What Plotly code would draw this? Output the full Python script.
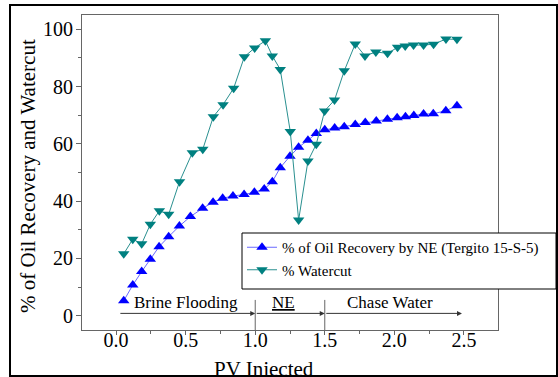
import plotly.graph_objects as go

# ---- data ----
oil_pv = [0.055, 0.12, 0.184, 0.246, 0.309, 0.378, 0.455, 0.534, 0.622, 0.697, 0.766, 0.84,
          0.92, 0.994, 1.065, 1.123, 1.18, 1.25, 1.312, 1.379, 1.439, 1.5, 1.571, 1.64, 1.719,
          1.791, 1.87, 1.95, 2.02, 2.08, 2.14, 2.21, 2.28, 2.37, 2.45]
oil_rec = [5.2, 10.7, 15.4, 19.7, 24.1, 27.6, 31.3, 34.6, 37.5, 39.6, 41.0, 41.8,
           42.3, 43.1, 44.2, 46.8, 51.7, 55.7, 58.8, 61.3, 63.6, 64.9, 65.5, 66.0, 66.8,
           67.5, 68.0, 68.6, 69.1, 69.5, 69.9, 70.4, 70.5, 71.6, 73.3]

wc_pv = [0.055, 0.12, 0.184, 0.246, 0.311, 0.378, 0.456, 0.548, 0.623, 0.699, 0.769, 0.845,
         0.922, 0.996, 1.073, 1.123, 1.18, 1.252, 1.312, 1.379, 1.439, 1.499, 1.57, 1.64,
         1.719, 1.789, 1.867, 1.951, 2.023, 2.078, 2.138, 2.21, 2.282, 2.371, 2.45]
wc_val = [21.6, 26.7, 25.1, 31.9, 36.6, 35.4, 46.8, 56.9, 58.1, 69.5, 73.7, 79.4,
          90.4, 93.5, 96.0, 90.7, 86.0, 64.3, 33.4, 54.0, 59.9, 71.5, 75.3, 85.5,
          94.9, 90.7, 92.1, 91.6, 93.7, 94.2, 94.5, 94.5, 94.8, 96.6, 96.5]

series_names = ["% of Oil Recovery by NE (Tergito 15-S-5)", "% Watercut"]
phase_labels = ["Brine Flooding", "<u>NE</u>", "Chase Water"]
phase_bounds = [0.02, 1.0, 1.5, 2.486]
phase_label_x = [0.50, 1.20, 1.97]
x_ticks = [0.0, 0.5, 1.0, 1.5, 2.0, 2.5]
y_ticks = [0, 20, 40, 60, 80, 100]

FONT = "Liberation Serif"

fig = go.Figure()
fig.add_trace(go.Scatter(
    x=oil_pv, y=oil_rec, mode="lines+markers", name=series_names[0],
    line=dict(color="#6a6aff", width=1),
    marker=dict(symbol="triangle-up", size=10, color="#0000ff"),
))
fig.add_trace(go.Scatter(
    x=wc_pv, y=wc_val, mode="lines+markers", name=series_names[1],
    line=dict(color="#2a9090", width=1),
    marker=dict(symbol="triangle-down", size=10, color="#008080"),
))

W, H = 558, 377
ML, MR, MT, MB = 82, 60, 15, 47
PW, PH = W - ML - MR, H - MT - MB


def px(xp):
    return (xp - ML) / PW


def py(yp):
    return (H - MB - yp) / PH


shapes = []
# outer frame
shapes.append(dict(type="rect", xref="paper", yref="paper",
                   x0=px(10), x1=px(557), y0=py(376), y1=py(5),
                   line=dict(color="black", width=2), layer="below"))
# legend box
shapes.append(dict(type="rect", xref="paper", yref="paper",
                   x0=px(242), x1=px(556), y0=py(289), y1=py(233),
                   line=dict(color="black", width=1), fillcolor="white", layer="above"))
# phase separators
for xb in phase_bounds[1:3]:
    shapes.append(dict(type="line", xref="x", yref="y", x0=xb, x1=xb, y0=5.5, y1=-5,
                       line=dict(color="#666666", width=1)))

annotations = []
for i in range(3):
    annotations.append(dict(x=phase_bounds[i + 1], y=0.8, ax=phase_bounds[i], ay=0.8,
                            xref="x", yref="y", axref="x", ayref="y", text="",
                            showarrow=True, arrowhead=2, arrowsize=1, arrowwidth=1,
                            arrowcolor="#333333"))
    annotations.append(dict(x=phase_label_x[i], y=4.6, xref="x", yref="y",
                            text=phase_labels[i], showarrow=False,
                            yanchor="middle", xanchor="center",
                            font=dict(family=FONT, size=17, color="black")))

annotations.append(dict(x=px(264), y=py(369), xref="paper", yref="paper",
                        text="PV Injected", showarrow=False,
                        xanchor="center", yanchor="middle",
                        font=dict(family=FONT, size=21, color="black")))
annotations.append(dict(x=px(28), y=py(176), xref="paper", yref="paper",
                        text="% of Oil Recovery and Watercut", showarrow=False, textangle=-90,
                        xanchor="center", yanchor="middle",
                        font=dict(family=FONT, size=21, color="black")))

fig.update_layout(
    width=W, height=H,
    margin=dict(l=ML, r=MR, t=MT, b=MB),
    paper_bgcolor="white", plot_bgcolor="white",
    font=dict(family=FONT, color="black"),
    showlegend=True,
    legend=dict(x=px(242), y=py(231), xanchor="left", yanchor="top",
                bgcolor="rgba(0,0,0,0)", borderwidth=0,
                font=dict(family=FONT, size=15, color="black"),
                tracegroupgap=0),
    shapes=shapes,
    annotations=annotations,
    xaxis=dict(range=[-0.245, 2.745], tickvals=x_ticks, tickformat=".1f",
               showgrid=False, zeroline=False, showline=True, mirror=True,
               linecolor="#666666", linewidth=1, ticks="outside", ticklen=4,
               tickcolor="#666666", tickfont=dict(family=FONT, size=20, color="black"),
               ticklabelstandoff=-12,
               minor=dict(dtick=0.25, ticks="outside", ticklen=3, tickcolor="#666666")),
    yaxis=dict(range=[-5, 105], tickvals=y_ticks,
               showgrid=False, zeroline=False, showline=True, mirror=True,
               linecolor="#666666", linewidth=1, ticks="outside", ticklen=5,
               tickcolor="#666666", tickfont=dict(family=FONT, size=20, color="black"),
               ticklabelstandoff=-1,
               minor=dict(dtick=10, ticks="outside", ticklen=3, tickcolor="#666666")),
)

fig.write_html("out.html")
